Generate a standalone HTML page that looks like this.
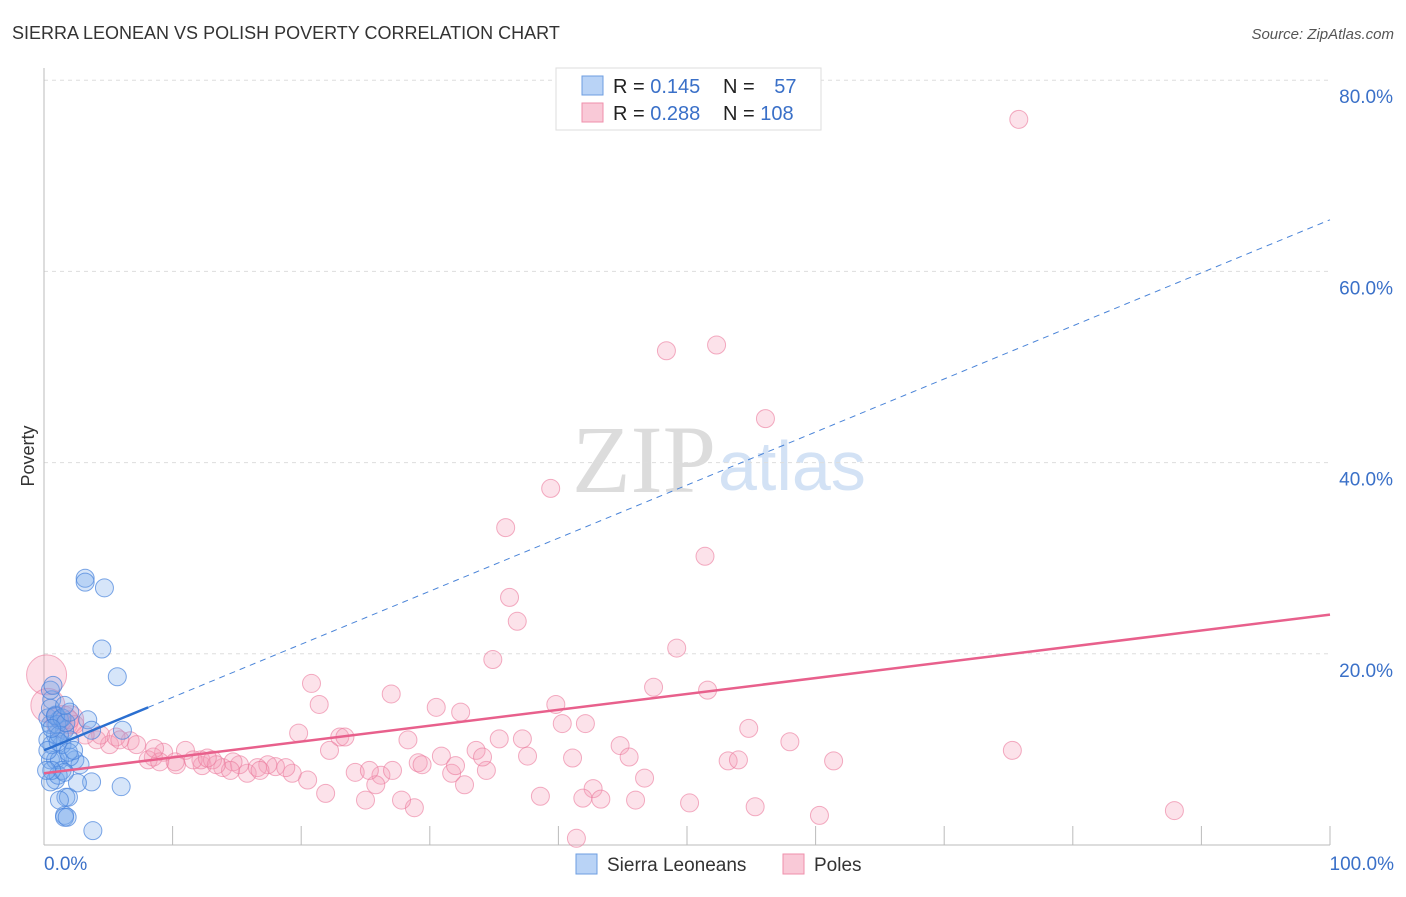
<!DOCTYPE html>
<html><head><meta charset="utf-8"><style>
body{margin:0;background:#fff;font-family:"Liberation Sans",sans-serif}
</style></head><body>
<svg id="chart" width="1406" height="892" font-family="Liberation Sans, sans-serif">
<text x="12" y="39" font-size="18" fill="#333">SIERRA LEONEAN VS POLISH POVERTY CORRELATION CHART</text>
<text x="1394" y="39" font-size="15" fill="#555" font-style="italic" text-anchor="end">Source: ZipAtlas.com</text>
<text x="716" y="492" font-size="96" fill="#dcdcdc" text-anchor="end" style="font-family:'Liberation Serif',serif">ZIP</text>
<text x="718" y="490" font-size="70" fill="#d3e2f5">atlas</text>
<g id="grid"></g><g id="axes"></g><g id="pink"></g><g id="blue"></g><g id="lines"></g>
<text transform="translate(34,456) rotate(-90)" font-size="18" fill="#333" text-anchor="middle">Poverty</text>
<g>
<rect x="556" y="68" width="265" height="62" fill="#fff" stroke="#ddd"/>
<rect x="582" y="76" width="21" height="19" fill="#b9d3f6" stroke="#6d9ee0"/>
<rect x="582" y="103" width="21" height="19" fill="#f9c9d7" stroke="#ef8fab"/>
<text x="613" y="93" font-size="20" fill="#222">R = <tspan fill="#3a70c8">0.145</tspan></text>
<text x="723" y="93" font-size="20" fill="#222">N = <tspan fill="#3a70c8" dx="14">57</tspan></text>
<text x="613" y="120" font-size="20" fill="#222">R = <tspan fill="#3a70c8">0.288</tspan></text>
<text x="723" y="120" font-size="20" fill="#222">N = <tspan fill="#3a70c8">108</tspan></text>
</g>
<g>
<rect x="576" y="854" width="21" height="20" fill="#b9d3f6" stroke="#6d9ee0"/>
<text x="607" y="871" font-size="19" fill="#333">Sierra Leoneans</text>
<rect x="783" y="854" width="21" height="20" fill="#f9c9d7" stroke="#ef8fab"/>
<text x="814" y="871" font-size="19" fill="#333">Poles</text>
</g>
</svg>
<script>
const yTicks=[20,40,60,80];
const yTickLabels=["20.0%","40.0%","60.0%","80.0%"];
const xTickLabels=["0.0%","100.0%"];
const blueX=[3.2,3.2,4.7,4.5,5.7,6.1,1.7,1.9,1.6,1.6,1.8,3.8,6.0,3.7,2.6,0.9,0.5,0.5,0.9,1.2,2.4,2.8,2.0,0.6,1.4,0.9,1.6,0.5,0.3,0.9,1.2,0.6,0.5,0.7,0.5,1.0,2.0,0.3,1.4,1.1,1.6,0.3,1.2,0.9,1.4,1.7,2.0,1.1,1.9,2.3,0.6,0.2,3.4,3.7,1.2,1.6,0.6];
const blueY=[27.9,27.5,26.9,20.5,17.6,12.0,5.0,5.0,3.1,2.9,2.9,1.5,6.1,6.6,6.5,6.8,6.6,8.9,8.9,8.9,8.9,8.4,9.2,10.5,10.5,11.5,12.0,12.6,13.3,13.6,13.1,15.2,16.2,16.7,14.3,12.6,11.0,11.0,7.8,7.3,7.6,9.9,11.5,13.5,13.3,12.8,13.9,10.8,9.7,9.9,7.8,7.8,13.1,12.0,4.7,14.6,12.2];
const pinkX=[75.8,48.4,52.3,56.1,39.4,35.9,51.4,36.2,36.8,49.2,34.9,20.8,21.4,27.0,47.4,51.6,39.8,30.5,32.4,19.8,23.0,23.4,28.3,22.2,29.1,30.9,33.6,35.4,37.2,40.3,42.1,44.8,45.5,54.8,58.0,75.3,61.4,53.2,54.0,46.7,42.7,43.3,41.9,46.0,38.6,50.2,55.3,60.3,87.9,41.4,28.8,27.8,25.0,21.9,20.5,19.3,26.2,25.8,24.2,25.3,27.1,29.4,31.7,32.7,34.4,37.6,41.1,34.1,32.0,18.0,17.4,15.8,16.6,15.2,13.9,14.7,12.3,11.0,10.3,9.3,8.5,8.1,12.2,13.1,11.6,6.7,7.2,5.1,4.1,4.4,3.2,2.4,2.0,1.4,0.9,16.8,18.8,5.6,9.0,10.2,14.5,13.4,12.7,5.9,8.6];
const pinkY=[75.9,51.7,52.3,44.6,37.3,33.2,30.2,25.9,23.4,20.6,19.4,16.9,14.7,15.8,16.5,16.2,14.7,14.4,13.9,11.7,11.3,11.3,11.0,9.9,8.6,9.3,9.9,11.1,11.1,12.7,12.7,10.4,9.2,12.2,10.8,9.9,8.8,8.8,8.9,7.0,5.9,4.8,4.9,4.7,5.1,4.4,4.0,3.1,3.6,0.7,3.9,4.7,4.7,5.4,6.8,7.5,7.3,6.3,7.6,7.8,7.8,8.4,7.5,6.3,7.8,9.3,9.1,9.2,8.3,8.2,8.4,7.5,8.1,8.4,8.1,8.7,8.3,9.9,8.4,9.7,9.2,8.9,8.9,8.9,8.9,10.9,10.5,10.5,11.0,11.5,11.5,12.6,13.1,12.9,13.5,7.8,8.1,11.3,8.7,8.7,7.8,8.4,9.1,11.0,10.1];
const pinkBigX=[0.2,0.3,1.4,2.0];
const pinkBigY=[17.8,14.6,12.9,13.1];
const pinkBigR=[20,17,16,14];
const blueTrend=[9.9,65.4];
const pinkTrend=[7.5,24.1];

const NS="http://www.w3.org/2000/svg";
const X=v=>44+v*12.86, Y=v=>845-v*9.56;
function mk(tag,attrs,parent){const e=document.createElementNS(NS,tag);for(const k in attrs)e.setAttribute(k,attrs[k]);document.getElementById(parent).appendChild(e);return e;}
yTicks.forEach((t,i)=>{
  const g=mk('line',{x1:44,x2:1330,y1:Y(t),y2:Y(t),stroke:'#ddd','stroke-dasharray':'4,4'},'grid');
  
  
  const l=mk('text',{x:1393,y:Y(t)+23,'font-size':19,fill:'#3a70c8','text-anchor':'end'},'grid');
  l.textContent=yTickLabels[i];
  
  
});
const ax=mk('line',{x1:44,x2:1330,y1:845,y2:845,stroke:'#bbb'},'axes');


const ay=mk('line',{x1:44,x2:44,y1:68,y2:845,stroke:'#bbb'},'axes');


for(let i=1;i<=10;i++){
  const t=mk('line',{x1:X(i*10),x2:X(i*10),y1:826,y2:845,stroke:'#bbb'},'axes');
  
  
}
[[0,'start',44],[100,'end',1394]].forEach((a,i)=>{
  const t=mk('text',{x:a[2],y:870,'font-size':19,fill:'#3a70c8','text-anchor':a[1]},'axes');
  t.textContent=xTickLabels[i];
  
  
});
pinkBigX.forEach((v,i)=>{
  const c=mk('circle',{cx:X(v),cy:Y(pinkBigY[i]),r:pinkBigR[i],fill:'rgba(245,150,180,0.3)',stroke:'rgba(235,120,155,0.6)'},'pink');
  
  
});
pinkX.forEach((v,i)=>{
  const c=mk('circle',{cx:X(v),cy:Y(pinkY[i]),r:9,fill:'rgba(245,160,185,0.3)',stroke:'rgba(235,120,155,0.6)'},'pink');
  
  
});
blueX.forEach((v,i)=>{
  const c=mk('circle',{cx:X(v),cy:Y(blueY[i]),r:9,fill:'rgba(120,170,235,0.3)',stroke:'rgba(70,130,220,0.7)'},'blue');
  
  
});
const bAt=x=>blueTrend[0]+(blueTrend[1]-blueTrend[0])*x/100;
const l1=mk('line',{x1:X(0),y1:Y(blueTrend[0]),x2:X(8.1),y2:Y(bAt(8.1)),stroke:'#2b6fd0','stroke-width':2.5},'lines');


const l2=mk('line',{x1:X(8.1),y1:Y(bAt(8.1)),x2:X(100),y2:Y(blueTrend[1]),stroke:'#4a84d8','stroke-width':1,'stroke-dasharray':'6,5'},'lines');


const l3=mk('line',{x1:X(0),y1:Y(pinkTrend[0]),x2:X(100),y2:Y(pinkTrend[1]),stroke:'#e8608c','stroke-width':2.5},'lines');


</script>
</body></html>
